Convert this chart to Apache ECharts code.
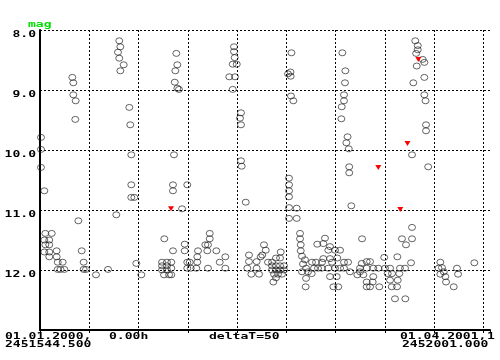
<!DOCTYPE html>
<html><head><meta charset="utf-8">
<script src="https://cdn.jsdelivr.net/npm/echarts@6/dist/echarts.min.js"></script>
<style>html,body{margin:0;padding:0;background:#fff}#c{width:500px;height:360px}</style>
</head><body><div id="c"></div>
<script>
// Julian-date range of the plot
const JD0 = 2451544.5;
const JD1 = 2452001.0;
const xStepDays = 50;
const magTicks = [8, 9, 10, 11, 12];
const magMin = 8, magMax = 13;

// Observations: days since JD0 and visual magnitude
const obsDays = [
1.0,1.0,1.0,4.4,5.4,11.9,4.4,9.4,5.4,9.4,4.4,9.4,9.4,16.9,16.9,18.0,23.0,18.0,24.7,20.8,
32.8,33.8,33.8,36.2,35.8,38.9,42.3,44.3,44.3,46.7,56.8,69.0,77.4,80.4,81.5,79.1,80.4,84.9,81.5,90.6,
91.6,92.6,92.6,92.6,95.7,97.7,102.8,126.1,123.8,128.8,123.8,128.8,123.8,128.8,125.8,130.9,133.2,133.2,133.2,134.9,
138.3,139.3,137.3,136.7,139.3,141.0,135.9,134.9,134.9,149.4,144.1,146.8,146.8,149.4,151.9,149.4,152.9,160.3,159.6,159.6,
158.6,170.4,167.7,170.4,172.2,172.2,169.7,178.9,182.3,188.0,188.0,196.8,196.8,197.5,195.5,199.6,192.0,197.8,195.5,203.9,
202.9,203.9,203.9,204.6,208.7,212.0,212.0,210.3,214.4,219.8,219.8,222.2,223.9,227.2,229.0,225.5,231.3,235.4,239.4,243.5,
235.4,239.4,243.5,247.5,235.4,239.4,243.5,247.5,237.4,241.5,245.5,239.4,236.7,244.2,255.1,254.1,254.3,251.6,254.6,257.0,
252.6,252.6,252.6,252.6,252.6,260.4,252.6,260.4,263.8,263.8,264.5,264.5,265.8,268.8,266.8,269.9,265.8,271.9,269.5,269.9,
275.6,275.9,280.0,278.0,282.0,289.1,287.4,281.3,294.2,292.5,299.3,304.4,301.6,287.4,294.2,285.8,292.5,299.3,304.4,286.1,
296.2,294.2,301.0,297.6,302.6,308.4,312.5,308.4,314.5,326.4,324.6,331.4,306.7,309.8,309.4,308.4,308.4,306.1,305.7,312.0,
310.8,313.2,313.7,313.7,315.8,326.7,331.4,334.8,324.6,331.4,338.1,343.2,321.9,328.0,338.1,331.4,334.8,344.2,337.5,349.2,
350.0,355.1,352.7,357.1,365.2,370.3,364.5,355.1,362.9,356.8,362.2,360.1,370.6,362.5,376.4,367.2,377.4,371.3,377.4,377.4,
393.8,380.7,383.2,383.2,388.2,389.9,382.2,389.9,378.7,389.9,391.1,391.6,391.6,381.6,406.1,407.8,409.6,406.1,411.2,411.9,
423.0,424.1,419.7,440.6,404.3
];
const obsMag = [
9.79,9.99,10.29,10.68,11.39,11.39,11.50,11.50,11.58,11.58,11.70,11.70,11.78,11.68,11.78,11.87,11.87,11.99,11.99,11.99,
8.79,8.88,9.08,9.18,9.49,11.18,11.68,11.87,11.99,11.99,12.08,11.99,11.08,8.18,8.28,8.37,8.47,8.58,8.68,9.29,
9.58,10.08,10.58,10.79,10.79,11.89,12.08,11.48,11.87,11.87,11.93,11.93,12.00,12.00,12.08,12.08,11.87,11.97,12.08,11.68,
8.39,8.58,8.68,8.87,8.97,8.99,10.08,10.58,10.68,10.58,10.98,11.57,11.68,11.87,11.87,11.97,11.97,11.68,11.78,11.87,
11.97,11.97,11.58,11.58,11.39,11.48,11.68,11.68,11.87,11.78,11.97,8.28,8.36,8.46,8.57,8.57,8.78,8.78,8.99,9.38,
9.47,9.58,10.18,10.27,10.87,11.75,11.86,11.97,12.07,11.86,11.97,12.07,11.78,11.58,11.67,11.75,11.87,11.87,11.80,11.80,
11.93,11.93,11.93,11.93,12.00,12.00,12.00,12.00,12.07,12.07,12.07,12.13,12.20,11.70,8.38,8.70,8.77,8.73,9.10,9.18,
10.47,10.58,10.68,10.78,10.96,10.97,11.14,11.14,11.39,11.48,11.58,11.68,11.77,11.83,11.90,11.97,12.03,12.03,12.28,12.14,
12.06,11.87,11.87,11.97,11.97,11.47,11.56,11.57,11.61,11.67,11.67,11.67,11.80,11.81,11.81,11.97,11.97,11.97,11.97,11.87,
11.87,12.11,12.11,12.28,12.28,11.87,11.87,11.97,12.03,11.89,12.03,12.20,8.38,8.68,8.88,9.08,9.18,9.28,9.48,9.78,
9.88,9.98,10.28,10.38,10.93,11.48,11.86,11.86,11.97,11.97,11.97,11.97,12.08,12.08,12.11,12.28,12.28,12.28,12.20,11.79,
11.97,11.97,12.06,12.06,11.97,11.97,12.06,12.17,12.17,12.28,12.28,12.48,12.48,11.78,11.88,11.48,11.48,11.58,11.29,10.08,
10.28,8.18,8.26,8.33,8.49,8.54,8.60,8.79,8.88,9.08,9.18,9.58,9.68,8.39,11.87,11.96,12.03,12.07,12.11,12.20,
11.97,12.07,12.28,11.88,11.97
];

// "Fainter than" upper limits (red triangles)
const limDays = [132.9, 343.2, 365.5, 372.8, 383.8];
const limMag  = [10.98, 10.29, 10.99, 9.89, 8.49];

// Annotation texts
const startDate = '01.01.2000,', startTime = '0.00h', startJD = JD0.toFixed(3);
const endDate = '01.04.2001,', endTimeVisible = '1', endJD = JD1.toFixed(3);
const deltaText = 'deltaT=' + xStepDays;
const yTitle = 'mag';

const chart = echarts.init(document.getElementById('c'), null, {renderer: 'canvas'});
const dashLine = {color: '#000', width: 1, type: [2, 2]};
const obsData = obsDays.map((d, i) => [d, obsMag[i]]);
const limData = limDays.map((d, i) => [d, limMag[i]]);

chart.setOption({
  animation: false,
  backgroundColor: '#fff',
  grid: {left: 40, right: 10, top: 30, bottom: 30},
  xAxis: {
    type: 'value', min: 0, max: JD1 - JD0, interval: xStepDays,
    axisLine: {onZero: false, lineStyle: {color: '#000', width: 2}},
    axisTick: {show: true, length: 3, lineStyle: {color: '#000', width: 1}},
    axisLabel: {show: false},
    splitLine: {show: true, showMinLine: false, showMaxLine: false, lineStyle: dashLine}
  },
  yAxis: {
    type: 'value', min: magMin, max: magMax, interval: 1, inverse: true,
    axisLine: {show: true, onZero: false, lineStyle: {color: '#000', width: 2}},
    axisTick: {show: false},
    axisLabel: {show: false},
    splitLine: {show: true, showMaxLine: false, lineStyle: dashLine}
  },
  series: [
    {type: 'scatter', data: obsData, symbol: 'circle', symbolSize: [7, 6], silent: true,
     itemStyle: {color: 'rgba(0,0,0,0)', borderColor: '#222', borderWidth: 0.7, opacity: 1}},
    {type: 'scatter', data: limData, symbol: 'triangle', symbolRotate: 180, symbolSize: [6, 5], silent: true,
     itemStyle: {color: '#ff0000', opacity: 1}}
  ]
});

const FONT = 'bold 9px "DejaVu Sans Mono"';
const SX = 1.45;
function txt(s, x, y, align, color) {
  return {type: 'text', x: x, y: y, scaleX: SX, silent: true,
    style: {text: s, font: FONT, fill: color || '#000', align: align, textAlign: align,
            verticalAlign: 'middle', textVerticalAlign: 'middle'}};
}
const els = [];
magTicks.forEach(v => {
  const py = chart.convertToPixel({yAxisIndex: 0}, v);
  els.push(txt(v.toFixed(1), 36, py + 4.5, 'right'));
});
els.push(txt(yTitle, 28, 24.5, 'left', '#00e000'));
els.push(txt(startDate, 5, 337, 'left'));
els.push(txt(startTime, 109, 337, 'left'));
els.push(txt(startJD, 5, 344.5, 'left'));
els.push(txt(deltaText, 209, 337, 'left'));
els.push(txt(endDate, 400, 337, 'left'));
els.push(txt(endTimeVisible, 487, 337, 'left'));
els.push(txt(endJD, 402, 344.5, 'left'));
chart.setOption({graphic: {elements: els}});
</script>
</body></html>
